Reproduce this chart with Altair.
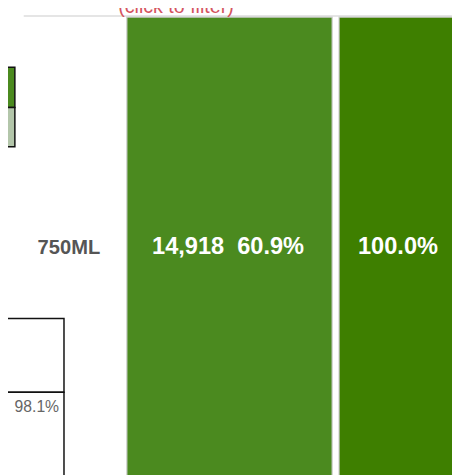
import altair as alt
import pandas as pd

# ---- values ----
size_labels = ["750ML"]
bottles = [14918]
share_pct = [60.9]
cum_pct = [100.0]
table_pct = [98.1]
filter_hint = ["(click to filter)"]

# ---- colours ----
green_main = "#4b8a1f"
green_dark = "#3e7f00"
green_light = "#b3c6aa"

W, H = 452, 467
xs = alt.Scale(domain=[0, W], range=[0, W])
ys = alt.Scale(domain=[0, H], range=[0, H])
noax = None

# cells of the dashboard fragment (layout, in panel units)
cells = pd.DataFrame({
    "x0": [121, 337, -3, -3, -3, -3],
    "x1": [330, 456, 7, 7, 57, 57],
    "y0": [5, 5, 56, 97, 312, 387],
    "y1": [480, 480, 97, 137, 387, 480],
    "fill": [green_main, green_dark, green_main, green_light, "#ffffff", "#ffffff"],
    "stroke": ["#cfcfcf", "#cfcfcf", "#111111", "#111111", "#111111", "#111111"],
    "sw": [1.2, 1.2, 1.5, 1.5, 1.5, 1.5],
})

rects = alt.Chart(cells).mark_rect().encode(
    x=alt.X("x0:Q", scale=xs, axis=noax),
    x2="x1:Q",
    y=alt.Y("y0:Q", scale=ys, axis=noax),
    y2="y1:Q",
    fill=alt.Fill("fill:N", scale=None),
    stroke=alt.Stroke("stroke:N", scale=None),
    strokeWidth=alt.StrokeWidth("sw:Q", scale=None),
)

top_line = alt.Chart(pd.DataFrame({"a": [16], "b": [460], "y": [4]})).mark_rule(
    color="#dcdcdc", strokeWidth=1.5
).encode(
    x=alt.X("a:Q", scale=xs, axis=noax), x2="b:Q", y=alt.Y("y:Q", scale=ys, axis=noax)
)

hint = alt.Chart(pd.DataFrame({"t": filter_hint, "x": [171], "y": [1]})).mark_text(
    font="Liberation Sans", fontSize=20, color="#d4545e", baseline="alphabetic", align="center"
).encode(x=alt.X("x:Q", scale=xs, axis=noax), y=alt.Y("y:Q", scale=ys, axis=noax), text="t:N")

size_txt = alt.Chart(pd.DataFrame({"t": size_labels, "x": [62], "y": [246]})).mark_text(
    font="Liberation Sans", fontSize=20.5, fontWeight="bold", color="#555555",
    baseline="alphabetic", align="center"
).encode(x=alt.X("x:Q", scale=xs, axis=noax), y=alt.Y("y:Q", scale=ys, axis=noax), text="t:N")

bar_labels = [
    f"{bottles[0]:,}\u00a0 {share_pct[0]:.1f}%",
    f"{cum_pct[0]:.1f}%",
]
bar_txt = alt.Chart(pd.DataFrame({"t": bar_labels, "x": [224, 397], "y": [246.5, 246.5]})).mark_text(
    font="Liberation Sans", fontSize=24, fontWeight="bold", color="#ffffff",
    baseline="alphabetic", align="center"
).encode(x=alt.X("x:Q", scale=xs, axis=noax), y=alt.Y("y:Q", scale=ys, axis=noax), text="t:N")

tbl_txt = alt.Chart(pd.DataFrame({"t": [f"{table_pct[0]:.1f}%"], "x": [52], "y": [407]})).mark_text(
    font="Liberation Sans", fontSize=16, color="#666666",
    baseline="alphabetic", align="right"
).encode(x=alt.X("x:Q", scale=xs, axis=noax), y=alt.Y("y:Q", scale=ys, axis=noax), text="t:N")

chart = alt.layer(top_line, rects, hint, size_txt, bar_txt, tbl_txt).properties(
    width=W, height=H, padding=0, autosize=alt.AutoSizeParams(type="none")
).configure_view(stroke=None)

chart.save("out.html", embed_options={"renderer": "svg", "actions": False})
